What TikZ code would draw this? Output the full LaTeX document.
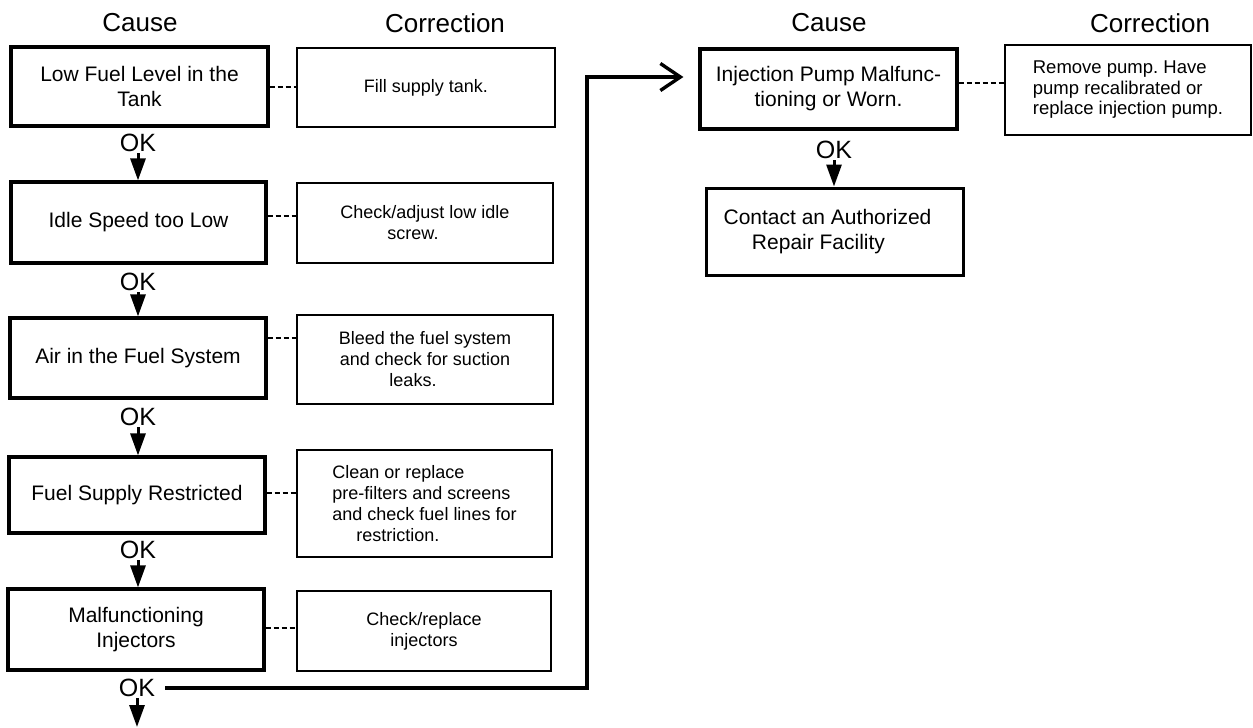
\documentclass[tikz,border=0pt]{standalone}
\usepackage{fontspec}
\setmainfont{Liberation Sans}
\usetikzlibrary{arrows.meta}
\frenchspacing
\begin{document}
\begin{tikzpicture}[x=1pt,y=-1pt,
  hdr/.style={inner sep=0pt, font=\fontsize{26}{30}\selectfont},
  cause/.style={draw, line width=3.2pt, inner sep=0pt, align=center, font=\fontsize{21}{25}\selectfont},
  corr/.style={draw, line width=2.3pt, inner sep=0pt, align=center, font=\fontsize{18}{21}\selectfont},
  oklabel/.style={inner sep=1pt, font=\fontsize{25}{28}\selectfont},
  okarrow/.style={line width=3pt, -{Triangle[length=22pt 0 0,width=15pt 0 0]}},
  link/.style={line width=2pt, dash pattern=on 5pt off 3pt},
  flow/.style={line width=4pt, -{Straight Barb[length=20pt 0 0,width=27pt 0 0,line width=3.4pt]}, shorten >=15pt}
]
\useasboundingbox (0,0) rectangle (1253,728);

% headers
\node[hdr] (h1) at (140,23) {Cause};
\node[hdr] (h2) at (445,23) {Correction};
\node[hdr] (h3) at (829,23) {Cause};
\node[hdr] (h4) at (1150,23) {Correction};

% cause boxes (left column)
\node[cause, minimum width=257pt, minimum height=79pt] (c1) at (139.5,86.5) {Low Fuel Level in the\\Tank};
\node[cause, minimum width=255pt, minimum height=81pt] (c2) at (138.5,222.5) {Idle Speed too Low};
\node[cause, minimum width=256pt, minimum height=80pt] (c3) at (138,358) {Air in the Fuel System};
\node[cause, minimum width=256pt, minimum height=76pt] (c4) at (137,495) {Fuel Supply Restricted};
\node[cause, minimum width=256pt, minimum height=81pt] (c5) at (136,629.5) {Malfunctioning\\Injectors};

% correction boxes (left)
\node[corr, minimum width=258pt, minimum height=79pt] (k1) at (426,87.5) {Fill supply tank.};
\node[corr, minimum width=256pt, minimum height=80pt] (k2) at (425,223) {Check/adjust low idle\\screw.\hspace*{24pt}};
\node[corr, minimum width=256pt, minimum height=89pt] (k3) at (425,359.5) {Bleed the fuel system\\and check for suction\\leaks.\hspace*{24pt}};
\node[corr, minimum width=255pt, minimum height=107pt, align=left] (k4) at (424.5,503.5) {Clean or replace\\pre-filters and screens\\and check fuel lines for\\\hspace*{24pt}restriction.};
\node[corr, minimum width=254pt, minimum height=80pt] (k5) at (424,631) {Check/replace\\injectors};

% right column
\node[cause, minimum width=257pt, minimum height=80pt] (r1c) at (828.5,89) {Injection Pump Malfunc-\\tioning or Worn.};
\node[corr, minimum width=246pt, minimum height=90pt, align=left, font=\fontsize{18.5}{20.5}\selectfont] (r1k) at (1128,90) {Remove pump. Have\\pump recalibrated or\\replace injection pump.};
\node[cause, line width=3pt, minimum width=257pt, minimum height=87pt] (r2c) at (834.5,231.5) {Contact an Authorized\hspace*{14pt}\\Repair Facility\hspace*{32pt}};

% OK labels
\node[oklabel] (ok1) at (138,143) {OK};
\node[oklabel] (ok2) at (138,282) {OK};
\node[oklabel] (ok3) at (138,417) {OK};
\node[oklabel] (ok4) at (138,550) {OK};
\node[oklabel] (ok5) at (137,688) {OK};
\node[oklabel] (ok6) at (834,150) {OK};

% OK arrows
\draw[okarrow] (ok1.south) -- (ok1.south |- c2.north);
\draw[okarrow] (ok2.south) -- (ok2.south |- c3.north);
\draw[okarrow] (ok3.south) -- (ok3.south |- c4.north);
\draw[okarrow] (ok4.south) -- (ok4.south |- c5.north);
\coordinate (bottomend) at (137,727);
\draw[okarrow] (ok5.south) -- (bottomend);
\draw[okarrow] (ok6.south) -- (ok6.south |- r2c.north);

% dashed links cause -> correction
\coordinate (l1) at (c1.east);
\coordinate (l2) at ([yshift=7pt]c2.east);
\coordinate (l3) at ([yshift=20pt]c3.east);
\coordinate (l4) at ([yshift=2pt]c4.east);
\coordinate (l5) at ([yshift=2pt]c5.east);
\coordinate (l6) at ([yshift=6pt]r1c.east);
\draw[link] (l1) -- (l1 -| k1.west);
\draw[link] (l2) -- (l2 -| k2.west);
\draw[link] (l3) -- (l3 -| k3.west);
\draw[link] (l4) -- (l4 -| k4.west);
\draw[link] (l5) -- (l5 -| k5.west);
\draw[link] (l6) -- (l6 -| r1k.west);

% long flow connector
\coordinate (turn) at (587,77);
\draw[flow] ([xshift=9pt]ok5.east) -- (ok5.east -| turn) -- (turn) -- (r1c.west |- turn);
\end{tikzpicture}
\end{document}
